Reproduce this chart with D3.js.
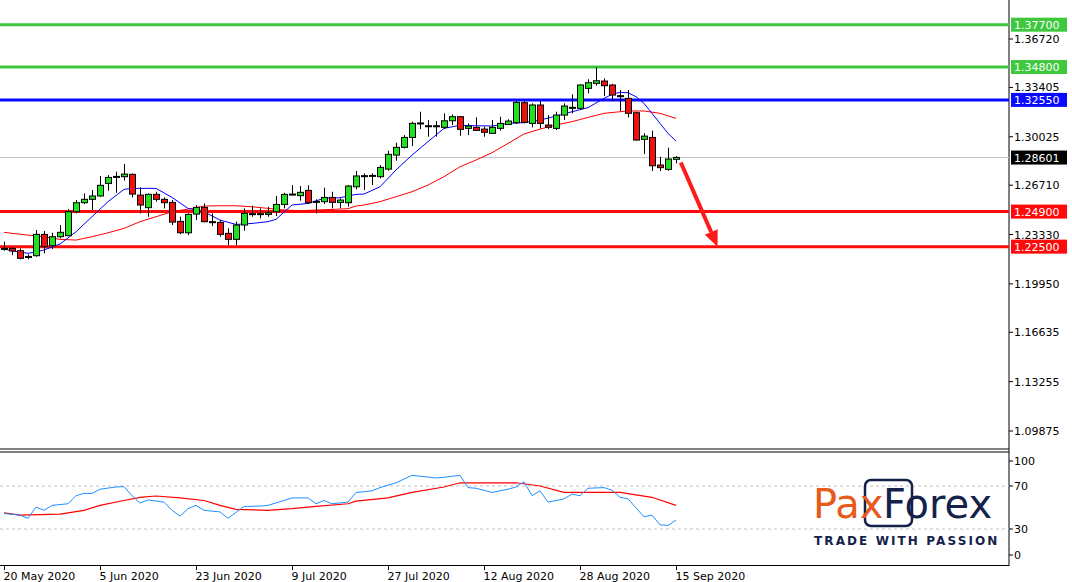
<!DOCTYPE html>
<html>
<head>
<meta charset="utf-8">
<script src="https://cdn.jsdelivr.net/npm/d3@7"></script>
<style>
  body { margin: 0; background: #fff; }
  text { font-family: "DejaVu Sans", sans-serif; }
</style>
</head>
<body>
<div id="chart"></div>
<script>
// daily candles [open, high, low, close], 20 May .. 15 Sep 2020
const candles = [
  [1.2234,1.2284,1.2222,1.2238],[1.2238,1.2245,1.2192,1.2220],[1.2222,1.2238,1.2163,1.2170],[1.2181,1.2197,1.2163,1.2183],
  [1.2188,1.2364,1.2181,1.2334],[1.2334,1.2357,1.2204,1.2250],[1.2256,1.2345,1.2234,1.2318],[1.2318,1.2398,1.2307,1.2348],
  [1.2325,1.2507,1.2325,1.2489],[1.2489,1.2569,1.2478,1.2551],[1.2551,1.2615,1.2542,1.2574],[1.2574,1.2638,1.2501,1.2597],
  [1.2597,1.2734,1.2592,1.2670],[1.2683,1.2740,1.2633,1.2724],[1.2727,1.2763,1.2619,1.2731],[1.2729,1.2816,1.2702,1.2747],
  [1.2745,1.2752,1.2587,1.2610],[1.2603,1.2656,1.2478,1.2535],[1.2517,1.2615,1.2455,1.2608],[1.2608,1.2626,1.2558,1.2574],
  [1.2574,1.2587,1.2512,1.2551],[1.2553,1.2569,1.2398,1.2418],[1.2423,1.2455,1.2336,1.2345],[1.2345,1.2478,1.2329,1.2471],
  [1.2473,1.2535,1.2432,1.2519],[1.2519,1.2546,1.2416,1.2421],[1.2421,1.2478,1.2391,1.2418],[1.2416,1.2432,1.2318,1.2334],
  [1.2341,1.2375,1.2261,1.2300],[1.2300,1.2421,1.2261,1.2398],[1.2398,1.2512,1.2359,1.2478],[1.2471,1.2530,1.2455,1.2476],
  [1.2471,1.2512,1.2444,1.2476],[1.2471,1.2523,1.2455,1.2482],[1.2489,1.2597,1.2460,1.2539],[1.2539,1.2619,1.2512,1.2608],
  [1.2606,1.2672,1.2603,1.2610],[1.2599,1.2665,1.2565,1.2622],[1.2635,1.2670,1.2542,1.2551],[1.2555,1.2574,1.2478,1.2560],
  [1.2558,1.2654,1.2542,1.2587],[1.2587,1.2626,1.2512,1.2553],[1.2553,1.2581,1.2512,1.2569],[1.2551,1.2672,1.2523,1.2665],
  [1.2660,1.2768,1.2642,1.2734],[1.2731,1.2752,1.2638,1.2736],[1.2734,1.2752,1.2672,1.2738],[1.2729,1.2809,1.2718,1.2793],
  [1.2781,1.2907,1.2770,1.2882],[1.2877,1.2962,1.2839,1.2930],[1.2930,1.3014,1.2923,1.2998],[1.2998,1.3106,1.2939,1.3094],
  [1.3092,1.3174,1.3055,1.3097],[1.3074,1.3117,1.3003,1.3078],[1.3074,1.3110,1.3003,1.3078],[1.3067,1.3163,1.3055,1.3112],
  [1.3112,1.3156,1.3083,1.3140],[1.3140,1.3144,1.3010,1.3053],[1.3060,1.3094,1.3014,1.3076],[1.3067,1.3135,1.3044,1.3046],
  [1.3055,1.3071,1.3003,1.3033],[1.3026,1.3117,1.3021,1.3067],[1.3060,1.3140,1.3044,1.3094],[1.3087,1.3122,1.3083,1.3110],
  [1.3099,1.3247,1.3090,1.3238],[1.3236,1.3249,1.3094,1.3101],[1.3094,1.3231,1.3067,1.3220],[1.3220,1.3249,1.3060,1.3094],
  [1.3083,1.3151,1.3055,1.3067],[1.3060,1.3174,1.3049,1.3151],[1.3151,1.3231,1.3117,1.3213],[1.3199,1.3293,1.3163,1.3204],
  [1.3197,1.3361,1.3186,1.3357],[1.3334,1.3396,1.3300,1.3373],[1.3368,1.3478,1.3352,1.3386],[1.3384,1.3402,1.3281,1.3352],
  [1.3357,1.3364,1.3249,1.3288],[1.3284,1.3323,1.3179,1.3279],[1.3265,1.3323,1.3135,1.3163],[1.3167,1.3174,1.2976,1.2980],
  [1.2985,1.3026,1.2884,1.3007],[1.2998,1.3044,1.2768,1.2804],[1.2809,1.2866,1.2768,1.2791],[1.2779,1.2928,1.2770,1.2850],
  [1.2848,1.2870,1.2820,1.2861]
];

// fast (blue) and slow (red) moving averages, [candle index, price]
const maFast = [[0,1.2234],[1,1.2222],[3,1.2204],[5,1.2227],[7,1.2268],[9,1.2352],[11,1.2455],[13,1.2558],[15,1.2642],[16,1.2649],
  [18,1.2649],[19,1.2649],[21,1.2587],[23,1.2512],[25,1.2489],[27,1.2432],[29,1.2402],[31,1.2409],[33,1.2421],[34,1.2437],
  [36,1.2535],[38,1.2546],[40,1.2581],[42,1.2585],[44,1.2608],[45,1.2610],[47,1.2660],[49,1.2775],[51,1.2877],[53,1.2969],
  [55,1.3060],[57,1.3081],[59,1.3078],[61,1.3076],[63,1.3094],[65,1.3099],[67,1.3117],[69,1.3144],[71,1.3174],[73,1.3202],
  [75,1.3265],[76,1.3293],[77,1.3307],[78,1.3304],[79,1.3277],[80,1.3231],[81,1.3163],[82,1.3094],[83,1.3026],[84,1.2973]];
const maSlow = [[0,1.2348],[1,1.2341],[3,1.2329],[5,1.2318],[7,1.2300],[9,1.2295],[11,1.2318],[13,1.2345],[15,1.2375],[17,1.2421],
  [19,1.2455],[21,1.2489],[23,1.2507],[25,1.2528],[27,1.2530],[29,1.2530],[31,1.2523],[33,1.2512],[35,1.2501],[37,1.2496],
  [39,1.2501],[41,1.2505],[43,1.2510],[44,1.2528],[45,1.2535],[47,1.2558],[49,1.2592],[51,1.2626],[53,1.2672],[55,1.2729],
  [57,1.2797],[59,1.2843],[61,1.2893],[63,1.2957],[65,1.3021],[67,1.3055],[69,1.3083],[71,1.3106],[73,1.3135],[75,1.3163],
  [77,1.3174],[78,1.3179],[80,1.3179],[82,1.3163],[84,1.3128]];

// RSI and its moving average, [candle index, value]
const rsi = [[0,44.4],[2,42.9],[3,39.9],[4,50.4],[5,47.4],[6,52.0],[8,53.5],[9,61.0],[10,63.1],[11,63.1],[12,67.0],[14,69.1],
  [15,69.4],[16,61.0],[17,54.1],[18,57.1],[20,55.0],[21,47.4],[22,42.0],[23,48.9],[24,52.0],[25,47.4],[27,45.9],[28,39.9],
  [30,51.0],[32,51.3],[33,52.0],[35,56.5],[36,58.9],[38,58.9],[39,53.5],[40,56.5],[41,53.5],[43,55.0],[44,64.0],[46,65.5],
  [47,68.5],[49,73.0],[51,79.9],[54,77.5],[55,78.1],[57,79.9],[58,68.5],[59,67.9],[61,64.0],[63,67.0],[64,69.1],[65,73.9],
  [66,61.0],[67,65.5],[68,55.0],[70,58.0],[71,62.5],[72,61.0],[73,67.9],[75,68.5],[76,66.1],[77,59.5],[78,58.0],[80,41.4],
  [81,42.9],[82,33.9],[83,33.3],[84,38.4]];
const rsiMa = [[0,45.0],[2,42.9],[7,43.8],[10,47.4],[12,52.0],[15,56.5],[17,59.5],[19,60.7],[22,58.9],[25,56.5],[27,52.0],
  [29,48.3],[33,47.4],[36,48.9],[39,51.0],[43,53.5],[44,55.9],[48,58.9],[51,64.0],[55,69.1],[57,73.0],[64,73.0],[67,70.0],
  [70,64.0],[77,64.0],[81,59.5],[84,52.0]];

const priceTicks = [1.36720, 1.33405, 1.30025, 1.26710, 1.23330, 1.19950, 1.16635, 1.13255, 1.09875];
const levels = [
  { price: 1.3770, color: "#3ec83e" }, { price: 1.3480, color: "#3ec83e" },
  { price: 1.3255, color: "#0a0aff" }, { price: 1.2490, color: "#ff0a0a" }, { price: 1.2250, color: "#ff0a0a" }
];
const lastPrice = 1.28601;
const dateLabels = ["20 May 2020","5 Jun 2020","23 Jun 2020","9 Jul 2020","27 Jul 2020","12 Aug 2020","28 Aug 2020","15 Sep 2020"];
const dateIdx = [0, 12, 24, 36, 48, 60, 72, 84];
const rsiTicks = [100, 70, 30, 0];
const arrowFrom = [84.6, 1.2826], arrowTo = [89.2, 1.2250];

const W = 1072, H = 582, axisX = 1009;
const svg = d3.select("#chart").append("svg").attr("width", W).attr("height", H);

const x = d3.scaleLinear().domain([0, 1]).range([4, 12]);
const y = d3.scaleLinear().domain([1.36720, 1.09875]).range([39, 431]);
const yr = d3.scaleLinear().domain([30, 70]).range([529, 486]);
const rsiLabelY = v => Math.max(461, Math.min(555, yr(v)));

// frames
svg.append("line").attr("x1", axisX).attr("x2", axisX).attr("y1", 0).attr("y2", 566).attr("stroke", "#000");
svg.append("line").attr("x1", 0).attr("x2", axisX).attr("y1", 449).attr("y2", 449).attr("stroke", "#000");
svg.append("line").attr("x1", 0).attr("x2", axisX).attr("y1", 452).attr("y2", 452).attr("stroke", "#000");
svg.append("line").attr("x1", 0).attr("x2", axisX).attr("y1", 565.5).attr("y2", 565.5).attr("stroke", "#000");

// price axis
priceTicks.forEach(p => {
  svg.append("line").attr("x1", axisX).attr("x2", axisX + 4).attr("y1", y(p)).attr("y2", y(p)).attr("stroke", "#000");
  svg.append("text").attr("x", 1014).attr("y", y(p) + 4).attr("font-size", 11).text(p.toFixed(5));
});

// current price line
svg.append("line").attr("x1", 0).attr("x2", axisX).attr("y1", y(lastPrice)).attr("y2", y(lastPrice)).attr("stroke", "#c0c0c0");

// level lines
levels.forEach(l => {
  svg.append("line").attr("x1", 0).attr("x2", axisX).attr("y1", y(l.price)).attr("y2", y(l.price))
    .attr("stroke", l.color).attr("stroke-width", 3);
});

const mainG = svg.append("g");
const line = d3.line().x(d => x(d[0])).y(d => y(d[1]));
mainG.append("path").attr("d", line(maSlow)).attr("fill", "none").attr("stroke", "#ff0000").attr("stroke-width", 1);
mainG.append("path").attr("d", line(maFast)).attr("fill", "none").attr("stroke", "#0000ff").attr("stroke-width", 1);

// candles
candles.forEach((c, i) => {
  const [o, h, l, cl] = c;
  const cx = Math.round(x(i)) + 0.5;
  mainG.append("line").attr("x1", cx).attr("x2", cx).attr("y1", y(h)).attr("y2", y(l)).attr("stroke", "#000");
  const top = y(Math.max(o, cl)), bot = y(Math.min(o, cl));
  mainG.append("rect").attr("x", cx - 3).attr("y", top).attr("width", 6).attr("height", Math.max(1, bot - top))
    .attr("fill", cl >= o ? "#22e022" : "#ee1111").attr("stroke", "#000");
});

// arrow
const ax1 = x(arrowFrom[0]), ay1 = y(arrowFrom[1]), ax2 = x(arrowTo[0]), ay2 = y(arrowTo[1]);
const ang = Math.atan2(ay2 - ay1, ax2 - ax1);
const back = 16, wing = 7;
const bx = ax2 - back * Math.cos(ang), by = ay2 - back * Math.sin(ang);
svg.append("line").attr("x1", ax1).attr("y1", ay1).attr("x2", bx).attr("y2", by)
  .attr("stroke", "#ff1a1a").attr("stroke-width", 4);
svg.append("path").attr("fill", "#ff1a1a")
  .attr("d", `M${ax2},${ay2}L${bx + wing * Math.sin(ang)},${by - wing * Math.cos(ang)}L${bx - wing * Math.sin(ang)},${by + wing * Math.cos(ang)}Z`);

// level labels
levels.map(l => ({ p: l.price, c: l.color, t: l.price.toFixed(5) }))
  .concat([{ p: lastPrice, c: "#000", t: lastPrice.toFixed(5) }])
  .forEach(d => {
    svg.append("rect").attr("x", 1011).attr("y", y(d.p) - 7).attr("width", 56).attr("height", 14).attr("fill", d.c);
    svg.append("text").attr("x", 1014).attr("y", y(d.p) + 4).attr("font-size", 11).attr("fill", "#fff").text(d.t);
  });

// RSI panel
[70, 30].forEach(v => {
  svg.append("line").attr("x1", 0).attr("x2", axisX).attr("y1", yr(v)).attr("y2", yr(v))
    .attr("stroke", "#c0c0c0").attr("stroke-dasharray", "3,3");
});
rsiTicks.forEach(v => {
  svg.append("line").attr("x1", axisX).attr("x2", axisX + 4).attr("y1", rsiLabelY(v)).attr("y2", rsiLabelY(v)).attr("stroke", "#000");
  svg.append("text").attr("x", 1014).attr("y", rsiLabelY(v) + 4).attr("font-size", 11).text(v);
});
const rline = d3.line().x(d => x(d[0])).y(d => yr(d[1]));
svg.append("path").attr("d", rline(rsiMa)).attr("fill", "none").attr("stroke", "#ff0000").attr("stroke-width", 1.2);
svg.append("path").attr("d", rline(rsi)).attr("fill", "none").attr("stroke", "#1e90ff").attr("stroke-width", 1);

// logo
const logo = svg.append("g");
logo.append("rect").attr("x", 865).attr("y", 480).attr("width", 47).attr("height", 46).attr("rx", 6)
  .attr("fill", "none").attr("stroke", "#14224a").attr("stroke-width", 2.5);
logo.append("text").attr("x", 813).attr("y", 518).attr("font-family", "Roboto").attr("font-size", 40)
  .attr("fill", "#e85a1b").text("Pax");
logo.append("text").attr("x", 883).attr("y", 518).attr("font-family", "Roboto").attr("font-size", 40)
  .attr("fill", "#14224a").text("Forex");
logo.append("text").attr("x", 814).attr("y", 545).attr("font-family", "Roboto").attr("font-weight", "bold")
  .attr("font-size", 12).attr("letter-spacing", 2.1).attr("fill", "#14224a").text("TRADE WITH PASSION");

// date axis
dateIdx.forEach((d, k) => {
  const tx = Math.round(x(d)) + 0.5;
  svg.append("line").attr("x1", tx).attr("x2", tx).attr("y1", 566).attr("y2", 570).attr("stroke", "#000");
  svg.append("text").attr("x", tx - 1).attr("y", 580).attr("font-size", 11).text(dateLabels[k]);
});
</script>
</body>
</html>
